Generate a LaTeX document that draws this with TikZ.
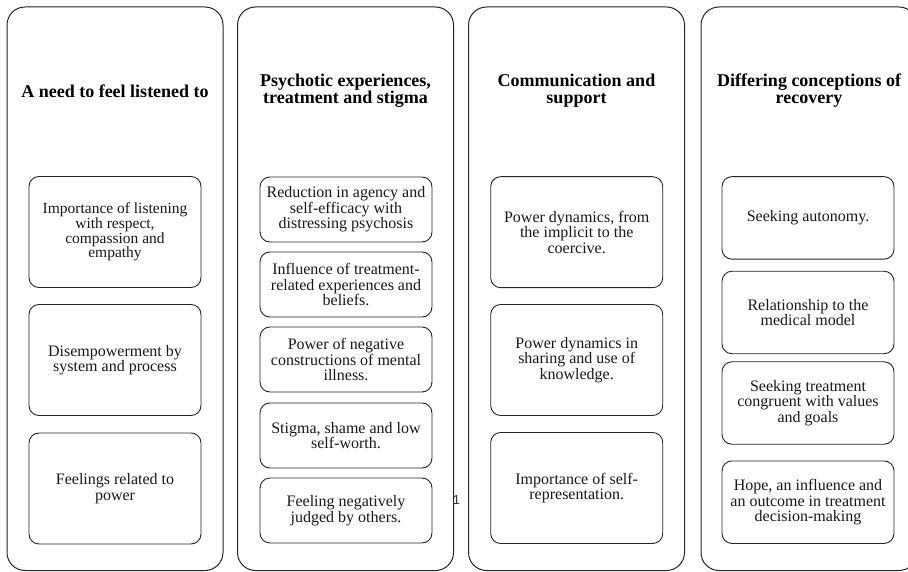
\documentclass[tikz,border=0pt]{standalone}
\usepackage{fontspec}
\setmainfont{Liberation Serif}
\newfontfamily\pagenumfont{Liberation Sans}
\begin{document}
\begin{tikzpicture}[x=1pt,y=-1pt,
  colbox/.style={draw=black!85, line width=1pt, rounded corners=18pt, minimum width=216pt, minimum height=563.5pt, inner sep=0pt},
  ttl/.style={font=\bfseries\fontsize{18}{17}\selectfont, align=center, text=black, inner sep=0pt},
  sub/.style={draw=black!85, line width=0.9pt, rounded corners=10pt, minimum width=172pt, align=center, font=\fontsize{16}{15.5}\selectfont, inner sep=0pt, text=black!90},
]
\clip (0,0) rectangle (908,572);
\fill[white] (0,0) rectangle (908,572);

% columns
\node[colbox] (c1) at (115,288.75) {};
\node[colbox] (c2) at (345.5,288.75) {};
\node[colbox] (c3) at (576.5,288.75) {};
\node[colbox] (c4) at (809,288.75) {};

% titles
\node[ttl] (t1) at (115,91) {A need to feel listened to};
\node[ttl] (t2) at (345.5,91) {Psychotic experiences,\\treatment and stigma};
\node[ttl] (t3) at (576.5,91) {Communication and\\support};
\node[ttl] (t4) at (809,91) {Differing conceptions of\\recovery};

% column 1
\node[sub, minimum height=111pt, font=\fontsize{15.5}{14.6}\selectfont] (a1) at (115,232) {Importance of listening\\with respect,\\compassion and\\empathy};
\node[sub, minimum height=111pt] (a2) at (115,360) {Disempowerment by\\system and process};
\node[sub, minimum height=111pt] (a3) at (115,488.5) {Feelings related to\\power};

% column 2
\node[sub, minimum height=65pt] (b1) at (346,209.5) {Reduction in agency and\\self-efficacy with\\distressing psychosis};
\node[sub, minimum height=65pt] (b2) at (346,284.5) {Influence of treatment-\\related experiences and\\beliefs.};
\node[sub, minimum height=65pt] (b3) at (346,359.5) {Power of negative\\constructions of mental\\illness.};
\node[sub, minimum height=65pt] (b4) at (346,435.5) {Stigma, shame and low\\self-worth.};
\node[sub, minimum height=65pt] (b5) at (346,510.5) {Feeling negatively\\judged by others.};

% column 3
\node[sub, minimum height=111pt] (d1) at (576.7,232.2) {Power dynamics, from\\the implicit to the\\coercive.};
\node[sub, minimum height=111pt] (d2) at (576.7,360) {Power dynamics in\\sharing and use of\\knowledge.};
\node[sub, minimum height=111pt] (d3) at (576.7,488) {Importance of self-\\representation.};

% column 4
\node[sub, minimum height=82.5pt] (e1) at (808,217.9) {Seeking autonomy.};
\node[sub, minimum height=82.5pt] (e2) at (808,312.5) {Relationship to the\\medical model};
\node[sub, minimum height=82.5pt] (e3) at (808,403) {Seeking treatment\\congruent with values\\and goals};
\node[sub, minimum height=82.5pt] (e4) at (808,502.2) {Hope, an influence and\\an outcome in treatment\\decision-making};

% page number
\node[font=\pagenumfont\fontsize{13}{13}\selectfont, text=black!80, inner sep=0pt] (pn) at (456.5,500) {1};
\end{tikzpicture}
\end{document}
